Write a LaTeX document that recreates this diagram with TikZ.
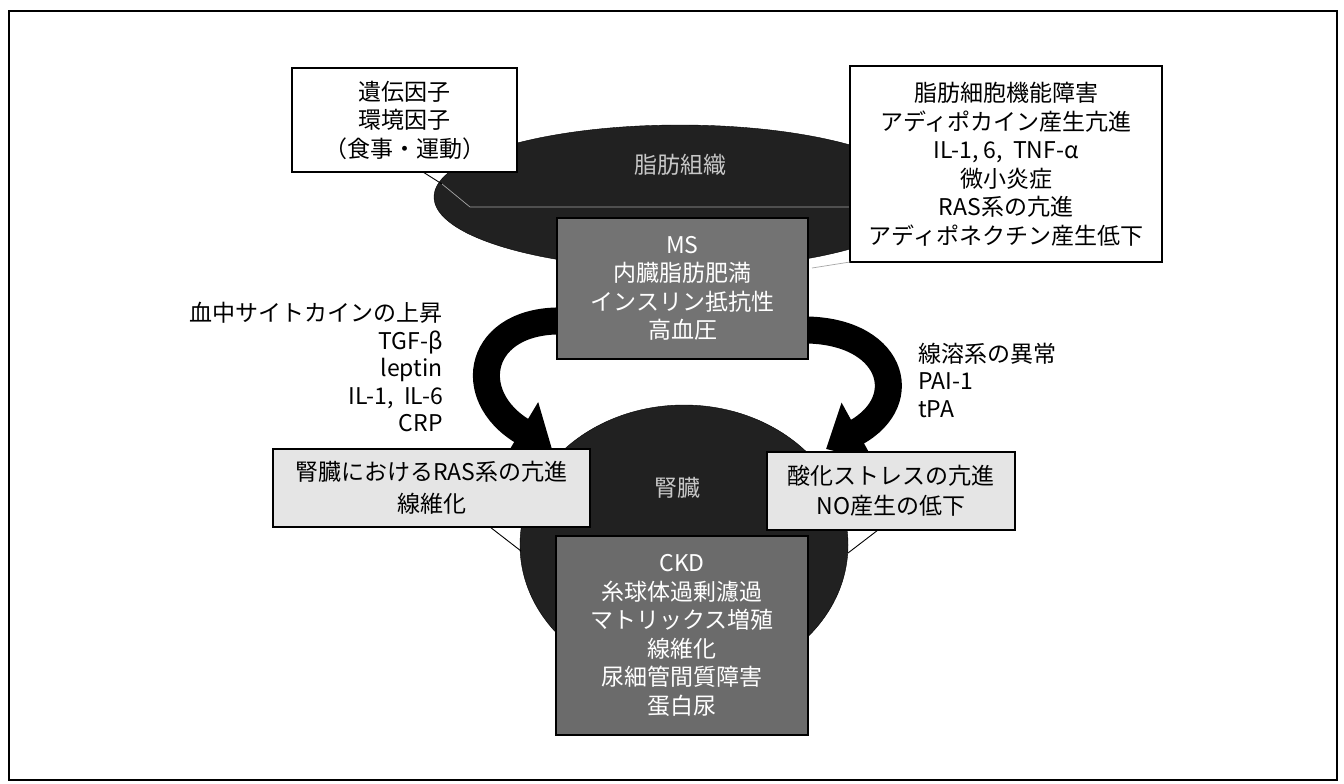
\documentclass[tikz,border=0pt]{standalone}
\usepackage{fontspec}
\setmainfont{Noto Sans CJK JP}
\usetikzlibrary{arrows.meta,shapes.geometric}
\tikzset{
  whitebox/.style={draw=black, line width=1.3pt, fill=white, align=center, inner sep=0pt},
  stipplebox/.style={draw=black, line width=1.3pt, fill=black!10, align=center, inner sep=0pt},
  darkbox/.style={draw=black, line width=1.3pt, fill=black!55, text=white, align=center, inner sep=0pt},
  darkshape/.style={ellipse, fill=black!87, draw=black, inner sep=0pt},
  shapelabel/.style={text=black!22},
  bigarrow/.style={line width=27pt, -{Triangle[length=36pt,width=64pt]}},
  tail/.style={draw=black, line width=0.9pt},
  faint/.style={draw=black!35, line width=0.7pt},
  sidetext/.style={inner sep=0pt, font=\fontsize{23}{27.5}\selectfont}
}
\begin{document}
\begin{tikzpicture}[x=1pt,y=-1pt,font=\fontsize{23}{28.5}\selectfont]
\useasboundingbox (0,0) rectangle (1344,784);
\fill[white] (0,0) rectangle (1344,784);
\draw[line width=1.2pt] (9,11) rectangle (1337,780);

% adipose tissue ellipse
\node[darkshape, minimum width=492pt, minimum height=144pt] (fat) at (680,197) {};
\node[shapelabel] (fatlabel) at (680,165) {脂肪組織};
\coordinate (ft1) at (442,184);
\coordinate (ft2) at (470,207);
\coordinate (ft3) at (850,207);
\draw[faint] (ft1) -- (ft2) -- (ft3);

% kidney
\node[darkshape, minimum width=328pt, minimum height=280pt] (kid) at (684,545) {};
\node[shapelabel] (kidlabel) at (677,488) {腎臓};

% arrows
\coordinate (la0) at (565,321);
\coordinate (la1) at (552,449);
\coordinate (ra0) at (800,330);
\coordinate (ra1) at (826,449);
\draw[bigarrow] (la0) .. controls (478,318) and (462,395) .. (la1);
\draw[bigarrow] (ra0) .. controls (892,328) and (915,400) .. (ra1);

% MS box
\node[darkbox, minimum width=251pt, minimum height=141pt] (ms) at (682.5,288.5)
  {MS\\内臓脂肪肥満\\インスリン抵抗性\\高血圧};

% CKD box
\node[darkbox, minimum width=252pt, minimum height=199pt, fill=black!58] (ckd) at (682,635.5)
  {CKD\\糸球体過剰濾過\\マトリックス増殖\\線維化\\尿細管間質障害\\蛋白尿};

% top boxes
\node[whitebox, minimum width=225pt, minimum height=104pt] (gene) at (404.5,120)
  {遺伝因子\\環境因子\\（食事・運動）};
\coordinate (gt0) at (423,172);
\draw[tail] (gt0) -- (ft1);

\node[whitebox, minimum width=312pt, minimum height=196pt] (adipo) at (1006,164)
  {脂肪細胞機能障害\\アディポカイン産生亢進\\IL-1, 6,\ \ TNF-α\\微小炎症\\RAS系の亢進\\アディポネクチン産生低下};
\coordinate (at0) at (850,262);
\coordinate (at1) at (812,268);
\draw[faint] (at0) -- (at1);

% middle boxes
\node[stipplebox, minimum width=317pt, minimum height=78pt, font=\fontsize{23}{32}\selectfont] (ras) at (431.5,488)
  {腎臓におけるRAS系の亢進\\線維化};
\coordinate (rt0) at (490,527);
\coordinate (rt1) at (521,551);
\draw[tail] (rt0) -- (rt1);

\node[stipplebox, minimum width=248pt, minimum height=78pt, font=\fontsize{23}{30}\selectfont] (ox) at (891,491)
  {酸化ストレスの亢進\\NO産生の低下};
\coordinate (ot0) at (878,530);
\coordinate (ot1) at (848,553);
\draw[tail] (ot0) -- (ot1);

% side texts
\node[sidetext, anchor=east, align=right] (cyto) at (443,367)
  {血中サイトカインの上昇\\TGF-β\\leptin\\IL-1,\ \ IL-6\\CRP};
\node[sidetext, anchor=west, align=left] (fib) at (918,380)
  {線溶系の異常\\PAI-1\\tPA};
\end{tikzpicture}
\end{document}
